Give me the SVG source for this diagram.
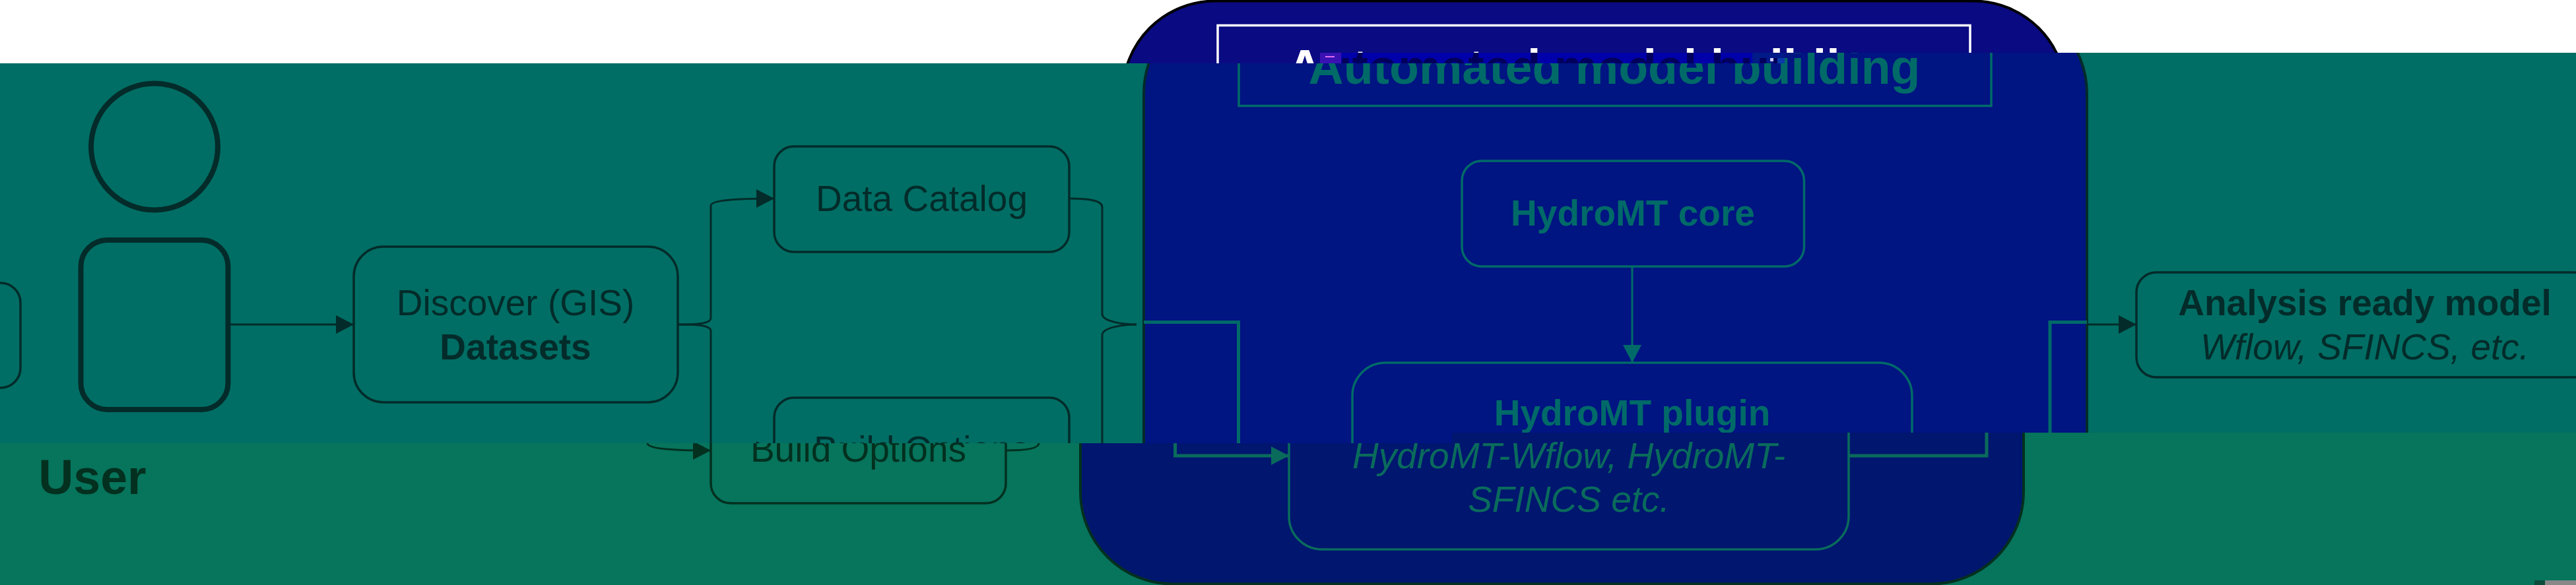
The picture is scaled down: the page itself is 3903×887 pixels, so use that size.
<svg xmlns="http://www.w3.org/2000/svg" width="3903" height="887" viewBox="0 0 3903 887">
<style>
text{font-family:"Liberation Sans",Arial,sans-serif;font-size:55px;text-anchor:middle}
.b{font-weight:700}.i{font-style:italic}.t{font-size:73.500px;font-weight:700}
.box,.conn,.elb{fill:none}
.d2{fill:#032b2a}.d3{fill:#03301f}.te2{fill:#006a68}.te3{fill:#0a6b5c}
.s2{stroke:#032b2a}.s3{stroke:#03301f}.st2{stroke:#006a68}.st3{stroke:#0a6b5c}
.box{stroke-width:3.500}.conn{stroke-width:3}.elb{stroke-width:5}
</style>
<defs>
<clipPath id="c1"><path d="M0 0H3903V80H2000V96H0Z"/></clipPath>
<clipPath id="c2"><path d="M0 96H2704V80H3903V656H2200V672H0Z"/></clipPath>
<clipPath id="c3"><path d="M0 672H2200V656H3903V887H0Z"/></clipPath>
<clipPath id="cs"><rect x="2000" y="80" width="704" height="16"/></clipPath>
<marker id="a2" markerUnits="userSpaceOnUse" markerWidth="28" markerHeight="28" refX="27" refY="14" orient="auto"><path d="M0 0L27 14L0 28Z" fill="#032b2a"/></marker>
<marker id="a3" markerUnits="userSpaceOnUse" markerWidth="28" markerHeight="28" refX="27" refY="14" orient="auto"><path d="M0 0L27 14L0 28Z" fill="#03301f"/></marker>
<marker id="at2" markerUnits="userSpaceOnUse" markerWidth="28" markerHeight="28" refX="27" refY="14" orient="auto"><path d="M0 0L27 14L0 28Z" fill="#006a68"/></marker>
<marker id="at3" markerUnits="userSpaceOnUse" markerWidth="28" markerHeight="28" refX="27" refY="14" orient="auto"><path d="M0 0L27 14L0 28Z" fill="#0a6b5c"/></marker>
</defs>

<g id="band-top" clip-path="url(#c1)">
<rect width="3903" height="100" fill="#fff"/>
<g id="automated-top">
<rect x="1701" y="1.500" width="1429" height="884" rx="140" fill="#0a0a82" stroke="#000" stroke-width="4"/>
<rect x="1845" y="38.500" width="1140" height="122" fill="none" stroke="#fff" stroke-width="3.500"/>
<text class="t" x="2414" y="127" fill="#fff">Automated model building</text>
</g>
</g>

<g id="band-strip" clip-path="url(#cs)">
<rect x="2000" y="80" width="655" height="16" fill="#0000aa"/>
<rect x="2655" y="80" width="49" height="16" fill="#001a88"/>
<text class="t" x="2414" y="127" fill="#00005c">Automated model building</text>
<rect x="2000" y="80" width="32" height="16" fill="#3a12b4"/>
<rect x="2008" y="85" width="14" height="2" fill="#e070f0"/>
<rect x="2682" y="88" width="5" height="5" fill="#c8c8f0"/>
<rect x="2693" y="88" width="11" height="8" fill="#0a3aa8"/>
</g>

<g id="band-middle" clip-path="url(#c2)">
<rect y="80" width="3903" height="600" fill="#006e64"/>
<g id="node-left"><rect class="box s2" x="-200" y="429" width="231" height="159" rx="30"/></g>
<g id="user">
<circle cx="234" cy="222.500" r="96" fill="none" stroke="#032b2a" stroke-width="8"/>
<rect x="122.500" y="364" width="223" height="257" rx="40" fill="none" stroke="#032b2a" stroke-width="8"/>
</g>
<g id="discover"><rect class="box s2" x="536" y="374" width="491" height="236" rx="45"/>
<text class="d2" x="781" y="478">Discover (GIS)</text><text class="d2 b" x="781" y="545">Datasets</text></g>
<g id="data-catalog"><rect class="box s2" x="1173" y="222" width="447" height="160" rx="30"/>
<text class="d2" x="1396.500" y="320">Data Catalog</text></g>
<g id="build-options"><rect class="box s2" x="1173" y="603" width="447" height="160" rx="30"/>
<text class="d2" x="1396.500" y="700">Build Options</text></g>
<g id="automated">
<rect x="1733" y="1.500" width="1429" height="884" rx="140" fill="#001482" stroke="#032b2a" stroke-width="4"/>
<rect x="1877" y="38.500" width="1140" height="122" fill="none" stroke="#006a68" stroke-width="3.500"/>
<text class="t te2" x="2446" y="127">Automated model building</text>
</g>
<g id="hydromt-core"><rect class="box st2" x="2215" y="244" width="518.500" height="160" rx="30"/>
<text class="te2 b" x="2474" y="342">HydroMT core</text></g>
<g id="hydromt-plugin"><rect class="box st2" x="2049" y="550" width="848" height="283" rx="50"/>
<text class="te2 b" x="2473" y="645">HydroMT plugin</text>
<text class="te2 i" x="2473" y="710">HydroMT-Wflow, HydroMT-</text></g>
<g id="analysis"><rect class="box s2" x="3237" y="413" width="692" height="159" rx="30"/>
<text class="d2 b" x="3583" y="478">Analysis ready model</text>
<text class="d2 i" x="3583" y="545">Wflow, SFINCS, etc.</text></g>
<g id="connectors">
<path class="conn s2" marker-end="url(#a2)" d="M345 492H536"/>
<path class="conn s2" marker-end="url(#a2)" d="M1027 492C1050 492 1077 492 1077 482V312C1077 304 1110 301 1173 301"/>
<path class="conn s2" marker-end="url(#a2)" d="M1027 492C1050 492 1077 492 1077 502V672C1077 680 1110 683 1173 683"/>
<path class="conn s2" d="M1620 301C1650 301 1670 304 1670 314V476C1670 487 1700 492 1722 492"/>
<path class="conn s2" d="M1620 683C1650 683 1670 680 1670 672V508C1670 497 1700 492 1722 492"/>
<path class="conn st2" marker-end="url(#at2)" d="M2473 404V550"/>
<path class="elb st2" marker-end="url(#at2)" d="M1733 488.500H1876.500V691H2049"/>
<path class="elb st2" d="M2897 691H3106V488.500H3162"/>
<path class="conn s2" marker-end="url(#a2)" d="M3164 492H3237"/>
</g>
</g>

<g id="band-bottom" clip-path="url(#c3)">
<rect y="650" width="3903" height="237" fill="#07745c"/>
<g id="user-label"><text class="t d3" x="140" y="749">User</text></g>
<g id="build-options-lower"><rect class="box s3" x="1077" y="603" width="447" height="160" rx="30"/>
<text class="d3" x="1300.500" y="700">Build Options</text></g>
<g id="automated-lower"><rect x="1637" y="1.500" width="1429" height="884" rx="140" fill="#00166f" stroke="#03301f" stroke-width="4"/></g>
<g id="hydromt-plugin-lower"><rect class="box st3" x="1953" y="550" width="848" height="283" rx="50"/>
<text class="te3 i" x="2377" y="710">HydroMT-Wflow, HydroMT-</text>
<text class="te3 i" x="2377" y="776">SFINCS etc.</text></g>
<g id="connectors-lower">
<path class="conn s3" marker-end="url(#a3)" d="M931 492C954 492 981 492 981 502V672C981 680 1014 683 1077 683"/>
<path class="conn s3" d="M1524 683C1554 683 1574 680 1574 672V508"/>
<path class="elb st3" marker-end="url(#at3)" d="M1637 488.500H1780.500V691H1953"/>
<path class="elb st3" d="M2801 691H3010V488.500"/>
</g>
</g>
<rect x="3840" y="880" width="16" height="7" fill="#0b4c3a"/>
<rect x="3856" y="880" width="47" height="7" fill="#888"/>
</svg>
